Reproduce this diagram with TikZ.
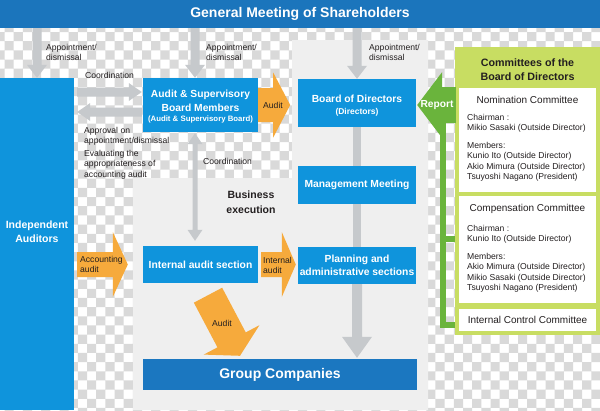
\documentclass[tikz,border=0pt]{standalone}
\usepackage{fontspec}
\setmainfont{Liberation Sans}
\usetikzlibrary{calc}
\definecolor{bannerblue}{HTML}{1B75BC}
\definecolor{boxblue}{HTML}{0F94DC}
\definecolor{gcblue}{HTML}{1B77C0}
\definecolor{orangea}{HTML}{F6AA3C}
\definecolor{greenpanel}{HTML}{C8DD62}
\definecolor{greena}{HTML}{6AB43C}
\definecolor{graya}{HTML}{C6C9CC}
\definecolor{panelgray}{HTML}{EFEFEF}
\definecolor{checkgray}{HTML}{D9D9D9}
\definecolor{txtdark}{HTML}{231F20}
\newcommand\fsz[2]{\fontsize{#1}{#2}\selectfont}
% color, start, end, half shaft, half head, head length
\newcommand\blockarrow[6]{%
  \coordinate (bahead) at ($(#3)!#6!(#2)$);
  \fill[#1] ($(#2)!#4!90:(#3)$) -- ($(bahead)!#4!90:(#3)$) -- ($(bahead)!#5!90:(#3)$) -- (#3)
    -- ($(bahead)!#5!-90:(#3)$) -- ($(bahead)!#4!-90:(#3)$) -- ($(#2)!#4!-90:(#3)$) -- cycle;}
\begin{document}
\begin{tikzpicture}[x=1pt,y=-1pt,
  bluebox/.style={fill=boxblue, text=white, font=\fsz{10.3}{13.5}\bfseries, align=center, inner sep=0pt},
  whitebox/.style={fill=white, inner sep=0pt, minimum width=137pt},
  small/.style={font=\fsz{8.6}{10.6}, text=txtdark, inner sep=0pt, align=left},
  ctitle/.style={font=\fsz{10}{12}, text=txtdark, inner sep=0pt},
  gline/.style={draw=greena, line width=6.5pt},
  gbar/.style={draw=graya, line width=8pt}]
\useasboundingbox (0,0) rectangle (600,410);
% checkered background
\begin{scope}
\clip (0,0) rectangle (600,410);
\fill[white] (0,0) rectangle (600,410);
\fill[checkgray] \foreach \j in {0,...,45}{ \foreach \i in {0,...,33}{
  ({-4.67+(2*\i+mod(\j,2))*9.17},{-4.67+\j*9.17}) rectangle ++(9.17,9.17) } };
\end{scope}
% business execution panel
\fill[panelgray] (133,178) -- (292,178) -- (292,40) -- (428,40) -- (428,410) -- (133,410) -- cycle;

% main nodes
\node[fill=bannerblue, minimum width=600pt, minimum height=28pt, inner sep=0pt, text=white, font=\fsz{14}{16}\bfseries] (gms) at (300,14) {General Meeting of Shareholders};
\node[fill=boxblue, minimum width=74pt, minimum height=332pt, inner sep=0pt] (ia) at (37,244) {};
\node[font=\fsz{10.5}{14.5}\bfseries, text=white, align=center, inner sep=0pt] (ialab) at (37,231.5) {Independent\\Auditors};
\node[bluebox, minimum width=115pt, minimum height=54pt, text height=35.5pt] (asb) at (200.5,105) {Audit \& Supervisory\\Board Members\\[-3pt]{\fsz{7.8}{9}(Audit \& Supervisory Board)}};
\node[bluebox, minimum width=118pt, minimum height=48pt, text height=25.5pt] (bod) at (357,103) {Board of Directors\\[-1pt]{\fsz{8.5}{10}(Directors)}};
\node[bluebox, minimum width=118pt, minimum height=38pt] (mm) at (357,185) {Management Meeting};
\node[bluebox, minimum width=118pt, minimum height=37pt] (pl) at (357,265.5) {Planning and\\administrative sections};
\node[bluebox, minimum width=115pt, minimum height=37pt] (ias) at (200.5,264.5) {Internal audit section};
\node[fill=gcblue, text=white, font=\fsz{14}{16}\bfseries, minimum width=274pt, minimum height=31pt, inner sep=0pt] (gc) at (280,374.5) {Group Companies};
\node[font=\fsz{10.5}{15}\bfseries, text=txtdark, align=center, inner sep=0pt] (bex) at (251,202.5) {Business\\execution};

% committees
\node[fill=greenpanel, minimum width=145pt, minimum height=288pt, inner sep=0pt] (cob) at (527.5,191) {};
\node[font=\fsz{10.7}{14.5}\bfseries, text=txtdark, align=center, inner sep=0pt] (cobt) at (527.5,69.5) {Committees of the\\Board of Directors};
\node[whitebox, minimum height=104pt] (nom) at (527.5,140) {};
\node[whitebox, minimum height=107pt] (comp) at (527.5,249.5) {};
\node[whitebox, minimum height=22pt, font=\fsz{10}{12}, text=txtdark] (icc) at (527.5,320) {Internal Control Committee};
\node[ctitle] (nomt) at (527.5,100) {Nomination Committee};
\node[small, anchor=base west] (nomc) at (467,130.6) {Chairman :\\Mikio Sasaki (Outside Director)};
\node[small, anchor=base west] (nomm) at (467,179.8) {Members:\\Kunio Ito (Outside Director)\\Akio Mimura (Outside Director)\\Tsuyoshi Nagano (President)};
\node[ctitle] (compt) at (527.5,209) {Compensation Committee};
\node[small, anchor=base west] (compc) at (467,241.6) {Chairman :\\Kunio Ito (Outside Director)};
\node[small, anchor=base west] (compm) at (467,290.8) {Members:\\Akio Mimura (Outside Director)\\Mikio Sasaki (Outside Director)\\Tsuyoshi Nagano (President)};

% helper coordinates
\coordinate (h1) at (0,92);
\coordinate (h2) at (0,112);
\coordinate (ry) at (0,105);

% gray arrows
\coordinate (a1s) at (ia.north |- gms.south);
\blockarrow{graya}{a1s}{ia.north}{4.5pt}{10pt}{13pt}
\coordinate (a2e) at ($(asb.north)+(-5.5,0)$);
\coordinate (a2s) at (a2e |- gms.south);
\blockarrow{graya}{a2s}{a2e}{4.5pt}{10pt}{13pt}
\coordinate (a3s) at (bod.north |- gms.south);
\blockarrow{graya}{a3s}{bod.north}{4.5pt}{10pt}{13pt}
\coordinate (c1s) at ($(ia.east |- h1)+(3,0)$);
\coordinate (c1e) at ($(asb.west |- h1)+(-1,0)$);
\blockarrow{graya}{c1s}{c1e}{4.5pt}{9pt}{13pt}
\coordinate (c2s) at ($(asb.west |- h2)+(-1,0)$);
\coordinate (c2e) at ($(ia.east |- h2)+(3,0)$);
\blockarrow{graya}{c2s}{c2e}{4.5pt}{9pt}{13pt}
\coordinate (vm) at ($(a2e |- asb.south)!0.5!(a2e |- ias.north)$);
\coordinate (vt) at ($(a2e |- asb.south)+(0,1)$);
\coordinate (vb) at ($(a2e |- ias.north)+(0,-5)$);
\blockarrow{graya}{vm}{vt}{2.5pt}{7.5pt}{11pt}
\blockarrow{graya}{vm}{vb}{2.5pt}{7.5pt}{11pt}
\draw[gbar] (bod.south) -- (mm.north);
\draw[gbar] (mm.south) -- (pl.north);
\coordinate (pge) at ($(pl.south |- gc.north)+(0,-1)$);
\blockarrow{graya}{pl.south}{pge}{5pt}{15pt}{21pt}

% orange arrows
\coordinate (oa1e) at ($(asb.east)+(32,0)$);
\blockarrow{orangea}{asb.east}{oa1e}{17pt}{32.5pt}{17pt}
\coordinate (oa2s) at ($(ia.east |- ias.west)+(3,0)$);
\coordinate (oa2e) at ($(ias.west)+(-15,0)$);
\blockarrow{orangea}{oa2s}{oa2e}{12.5pt}{32.5pt}{15pt}
\coordinate (oa3s) at ($(ias.east)+(3,0)$);
\coordinate (oa3e) at ($(pl.west |- ias.east)+(-2,0)$);
\blockarrow{orangea}{oa3s}{oa3e}{12.5pt}{32.5pt}{14pt}
\coordinate (oa4s) at ($(ias.south)+(7.5,12)$);
\coordinate (oa4e) at ($(gc.north)+(-40,-3)$);
\blockarrow{orangea}{oa4s}{oa4e}{16pt}{31.5pt}{18pt}

% green report arrow and bracket
\coordinate (gr1s) at ($(cob.west |- ry)+(1,0)$);
\coordinate (gr1e) at ($(bod.east |- ry)+(1,0)$);
\blockarrow{greena}{gr1s}{gr1e}{18pt}{33pt}{25pt}
\coordinate (gb0) at (443,120);
\draw[gline] (gb0) |- (cob.west |- 0,325);
\draw[gline] (gb0 |- 0,239) -- (cob.west |- 0,239);

% labels
\node[small, anchor=base west] (l1) at (46,60.6) {Appointment/\\dismissal};
\node[small, anchor=base west] (l2) at (206,60.6) {Appointment/\\dismissal};
\node[small, anchor=base west] (l3) at (369,60.6) {Appointment/\\dismissal};
\node[small, anchor=base west] (l4) at (85,78) {Coordination};
\node[small, anchor=base west] (l5) at (84,143.6) {Approval on\\appointment/dismissal};
\node[small, anchor=base west] (l6) at (84,177.2) {Evaluating the\\appropriateness of\\accounting audit};
\node[small, anchor=base west] (l7) at (203,164) {Coordination};
\node[small] (l8) at (273,105) {Audit};
\node[small, anchor=base west] (l9) at (80,272.6) {Accounting\\audit};
\node[small, anchor=base west] (l10) at (263,273.6) {Internal\\audit};
\node[small] (l11) at (222,323) {Audit};
\node[font=\fsz{10.2}{12}\bfseries, text=white, inner sep=0pt] (l12) at (437,105) {Report};
\end{tikzpicture}
\end{document}
